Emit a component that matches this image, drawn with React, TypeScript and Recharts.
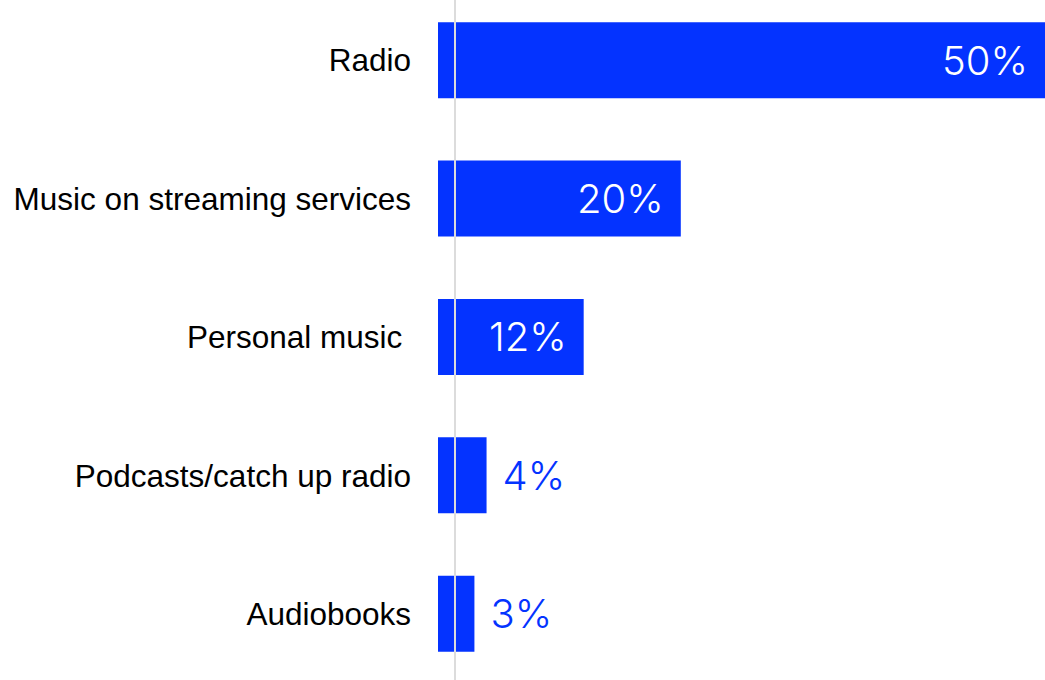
import { BarChart, Bar, XAxis, YAxis, LabelList, ReferenceLine } from "recharts";

const CATEGORIES = [
  "Radio",
  "Music on streaming services",
  "Personal music\u00a0",
  "Podcasts/catch up radio",
  "Audiobooks",
];
const SHARES = [50, 20, 12, 4, 3];

const BLUE = "#0433ff";

const data = CATEGORIES.map((name, i) => ({ name, share: SHARES[i] }));

// big bars get the figure inside in white, small ones outside in blue
const ShareLabel = (props: any) => {
  const { x, y, width, height, value } = props;
  const inside = value >= 10;
  const cy = y + height / 2;
  return (
    <text
      x={inside ? x + width - 17 : x + width + 16}
      y={cy + 14.5}
      textAnchor={inside ? "end" : "start"}
      fill={inside ? "#ffffff" : BLUE}
      fontFamily="Inter, 'Liberation Sans', Arial, sans-serif"
      fontWeight={300}
      fontSize={40}
    >
      {value}%
    </text>
  );
};

export default function App() {
  return (
    <div style={{ position: "absolute", left: 0, top: 0, background: "#fff" }}>
      <BarChart
        width={1045}
        height={680}
        data={data}
        layout="vertical"
        margin={{ top: -9, right: 0, bottom: -3, left: 0 }}
        barCategoryGap="22.5%"
      >
        <XAxis type="number" domain={[0, 50]} hide />
        <YAxis
          type="category"
          dataKey="name"
          width={438}
          axisLine={false}
          tickLine={false}
          tickMargin={21}
          tick={{ fill: "#000", fontSize: 31.5, fontFamily: "'Liberation Sans', Arial, sans-serif" }}
        />
        <Bar dataKey="share" fill={BLUE} isAnimationActive={false}>
          <LabelList dataKey="share" content={ShareLabel} />
        </Bar>
        <ReferenceLine x={1.4} stroke="#dcdcdc" strokeWidth={2} />
      </BarChart>
    </div>
  );
}
